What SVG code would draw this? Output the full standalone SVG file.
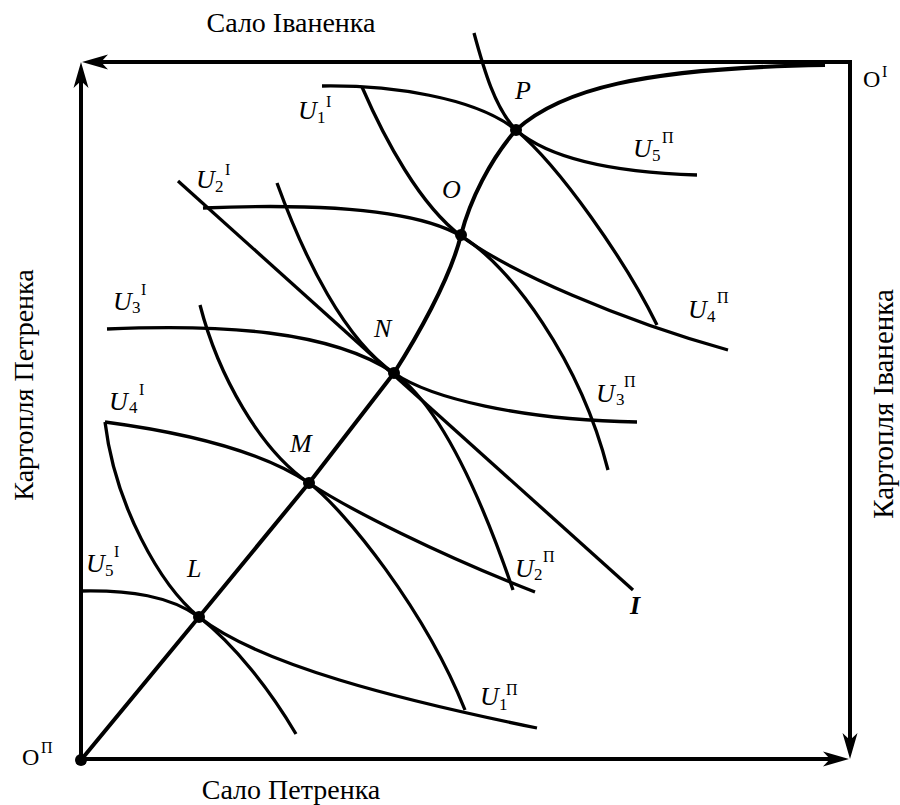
<svg xmlns="http://www.w3.org/2000/svg" width="900" height="805" viewBox="0 0 900 805">
<defs>
<marker id="arr" viewBox="0 0 26 16" refX="16" refY="8" markerWidth="26" markerHeight="16" markerUnits="userSpaceOnUse" orient="auto-start-reverse">
<path d="M26,8 L0,0.5 L7,8 L0,15.5 Z" fill="#000"/>
</marker>
</defs>
<style>
text{font-family:"Liberation Serif","Times New Roman","DejaVu Serif",serif;fill:#000}
.frame{fill:none;stroke:#000;stroke-width:4;stroke-linejoin:miter}
.crv{fill:none;stroke:#000;stroke-width:3.3;stroke-linecap:butt}
.cc{fill:none;stroke:#000;stroke-width:4;stroke-linejoin:round}
.dot{fill:#000}
.it{font-style:italic;font-size:26px}
.sb{font-size:17px}
.sp{font-size:16px}
.ax{font-size:28px}
.og{font-size:24px}
.bi{font-style:italic;font-weight:bold;font-size:26px}
</style>
<rect width="900" height="805" fill="#fff"/>
<g id="frame">
<path class="frame" d="M92,62 L850,62 L850,749" marker-start="url(#arr)" marker-end="url(#arr)"/>
<path class="frame" d="M81,72 L81,759 L839,759" marker-start="url(#arr)" marker-end="url(#arr)"/>
</g>
<g id="connectors">
<path id="U1I" class="crv" d="M322,86 C390,85 475,97 516,130 C560,167 625,260 657,325"/>
<path id="U5P" class="crv" d="M474,33 C484,70 495,108 516,130 C545,155 600,172 697,175"/>
<path id="U4P" class="crv" d="M362,87 C385,140 420,205 461,236 C510,272 620,320 728,350"/>
<path id="U2I" class="crv" d="M203,208 C300,204 410,206 461,236 C510,265 580,360 608,470"/>
<path id="U3I" class="crv" d="M107,329 C220,324 330,330 394,373 C425,395 465,450 513,590"/>
<path id="U3P" class="crv" d="M277,183 C305,260 345,340 394,373 C430,398 520,420 637,422"/>
<path id="U4I" class="crv" d="M105,422 C180,432 260,450 309,483 C345,510 425,610 465,710"/>
<path id="U2P" class="crv" d="M200,305 C218,375 260,450 309,483 C350,510 440,555 535,592"/>
<path id="U1P" class="crv" d="M105,422 C115,505 160,585 199,617 C260,665 400,700 537,728"/>
<path id="U5I" class="crv" d="M81,591 C130,590 170,596 199,617 C235,645 270,690 296,734"/>
<path id="lineI" class="crv" d="M178,181 L633,590"/>
<path id="contract" class="cc" d="M81,760 L199,617 L309,483 L394,373 C415,340 450,280 461,235 C470,200 490,160 516,130 C560,90 640,68 825,65"/>
</g>
<g id="node-OP"><circle class="dot" cx="81" cy="760" r="6"/><text class="og" x="22" y="765">O</text><text class="sp" x="41" y="753">П</text></g>
<g id="node-OI"><text class="og" x="863" y="87">O</text><text class="sp" x="882" y="77">I</text></g>
<g id="node-L"><circle class="dot" cx="199" cy="617" r="6"/><text class="it" x="187" y="577">L</text></g>
<g id="node-M"><circle class="dot" cx="309" cy="483" r="6"/><text class="it" x="290" y="452">M</text></g>
<g id="node-N"><circle class="dot" cx="394" cy="373" r="6"/><text class="it" x="374" y="337">N</text></g>
<g id="node-O"><circle class="dot" cx="461" cy="235" r="6"/><text class="it" x="442" y="198">O</text></g>
<g id="node-P"><circle class="dot" cx="516" cy="130" r="6"/><text class="it" x="515" y="99">P</text></g>
<g id="labels">
<text class="it" x="298" y="119">U</text><text class="sb" x="317" y="123">1</text><text class="sp" x="326" y="107">I</text>
<text class="it" x="196" y="188">U</text><text class="sb" x="215" y="192">2</text><text class="sp" x="225" y="175">I</text>
<text class="it" x="113" y="310">U</text><text class="sb" x="132" y="313">3</text><text class="sp" x="141" y="295">I</text>
<text class="it" x="109" y="410">U</text><text class="sb" x="129" y="413">4</text><text class="sp" x="139" y="395">I</text>
<text class="it" x="86" y="572">U</text><text class="sb" x="105" y="576">5</text><text class="sp" x="114" y="557">I</text>
<text class="it" x="633" y="157">U</text><text class="sb" x="652" y="161">5</text><text class="sp" x="662" y="143">П</text>
<text class="it" x="688" y="318">U</text><text class="sb" x="707" y="322">4</text><text class="sp" x="717" y="303">П</text>
<text class="it" x="596" y="402">U</text><text class="sb" x="616" y="405">3</text><text class="sp" x="624" y="387">П</text>
<text class="it" x="515" y="577">U</text><text class="sb" x="534" y="580">2</text><text class="sp" x="543" y="562">П</text>
<text class="it" x="480" y="705">U</text><text class="sb" x="499" y="710">1</text><text class="sp" x="506" y="695">П</text>
<text class="bi" x="630" y="614">I</text>
</g>
<g id="axis-labels">
<text class="ax" x="291" y="32" text-anchor="middle">Сало Іваненка</text>
<text class="ax" x="291" y="799" text-anchor="middle">Сало Петренка</text>
<text class="ax" transform="translate(33,385) rotate(-90)" text-anchor="middle">Картопля Петренка</text>
<text class="ax" transform="translate(893,404) rotate(-90)" text-anchor="middle" style="font-size:29px">Картопля Іваненка</text>
</g>
</svg>
